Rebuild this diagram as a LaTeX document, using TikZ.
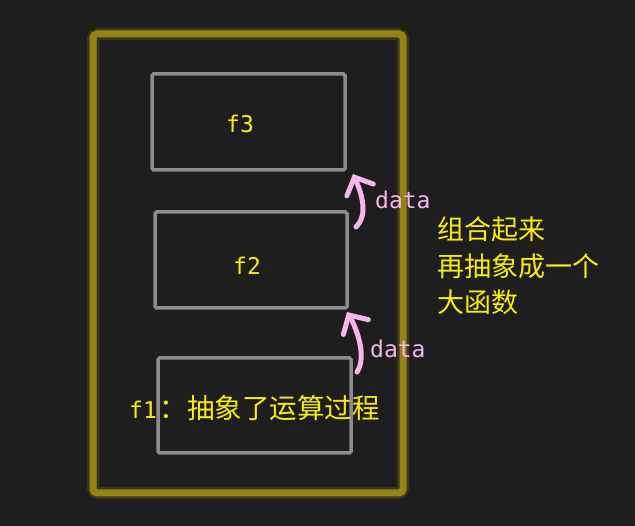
\documentclass[tikz,border=0pt]{standalone}
\usepackage{fontspec}
\usepackage{tikz}
\usetikzlibrary{arrows.meta}
\newfontfamily\cjk{Noto Sans CJK SC}
\newfontfamily\mono{DejaVu Sans Mono}
\definecolor{bg}{HTML}{1E1E1E}
\definecolor{olive}{HTML}{938414}
\definecolor{boxgray}{HTML}{8C8C8C}
\definecolor{pink}{HTML}{F9B4EC}
\definecolor{txt}{HTML}{FAEC0A}
\tikzset{
  fbox/.style={draw=boxgray, line width=3.5pt, rounded corners=1.5pt, minimum width=193pt, inner sep=0pt},
  flabel/.style={text=txt, font=\mono\fontsize{23}{24}\selectfont, inner sep=0pt},
  dlabel/.style={text=pink, font=\mono\fontsize{23}{24}\selectfont, inner sep=0pt, anchor=west},
  flow/.style={draw=pink, line width=5pt, line cap=round, -{Straight Barb[length=14pt,width=29pt,line cap=round]}}
}

\begin{document}
\begin{tikzpicture}[x=1pt,y=-1pt]
				\fill[bg] (0,0) rectangle (635,526);
				\useasboundingbox (0,0) rectangle (635,526);
				% outer frame with glow
				\draw[olive, line width=12pt, opacity=0.25, rounded corners=5pt] (93,34) rectangle (403,493);
				\draw[olive, line width=7pt, rounded corners=4pt] (93,34) rectangle (403,493);
				% inner boxes
				\node[fbox, minimum height=96pt, minimum width=193pt] (f3) at (248.5,122) {};
				\node[fbox, minimum height=96pt, minimum width=192pt] (f2) at (251,260) {};
				\node[fbox, minimum height=95pt, minimum width=193pt] (f1) at (254.5,405.5) {};
				\node[flabel] (l3) at (240,124) {f3};
				\node[flabel] (l2) at (247,266) {f2};
				\node[text=txt, inner sep=0pt, anchor=west] (l1) at (129,408) {{\mono\fontsize{23}{24}\selectfont f1}\hspace{3pt}{\cjk\fontsize{27.5}{30}\selectfont ：抽象了运算过程}};
				% data flow
				\coordinate (t2) at (356,227);
				\coordinate (h3) at (353,174);
				\coordinate (t1) at (357,372);
				\coordinate (h2) at (347,312);
				\draw[flow] (t2) .. controls (369,214) and (361,192) .. (h3);
				\draw[flow] (t1) .. controls (367,357) and (357,329) .. (h2);
				\node[dlabel] (d3) at (375,200) {data};
				\node[dlabel] (d2) at (370,349) {data};
				% note
				\node[text=txt, inner sep=0pt, anchor=west, align=left, font=\cjk\fontsize{27}{36.5}\selectfont] (note) at (437,266) {组合起来\\再抽象成一个\\大函数};
\end{tikzpicture}
\end{document}
